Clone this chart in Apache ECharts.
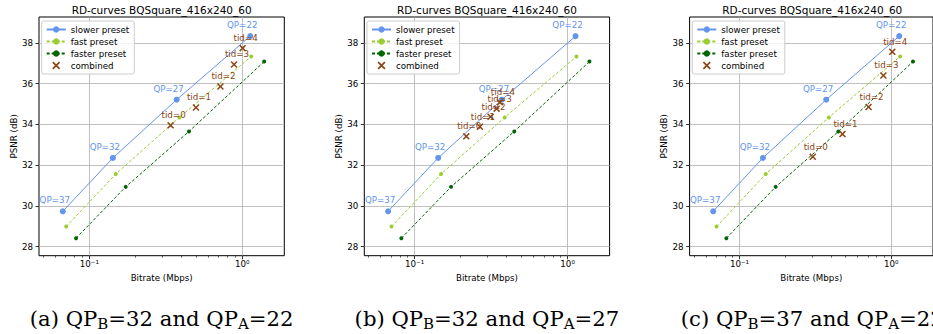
<!DOCTYPE html>
<html>
<head>
<meta charset="utf-8">
<script src="https://cdn.jsdelivr.net/npm/echarts@6/dist/echarts.min.js"></script>
<style>
html,body{margin:0;padding:0;background:#fff;}
#chart{width:933px;height:334px;}
</style>
</head>
<body>
<div id="chart"></div>
<script>
// ---- data ----
const slowerRate = [0.0671, 0.1426, 0.3724, 1.127];
const slowerPsnr = [29.73, 32.35, 35.21, 38.33];
const fastRate = [0.0706, 0.149, 0.388, 1.143];
const fastPsnr = [28.98, 31.56, 34.34, 37.33];
const fasterRate = [0.0819, 0.173, 0.448, 1.39];
const fasterPsnr = [28.41, 30.93, 33.65, 37.08];
const qpLabels = ['QP=37', 'QP=32', 'QP=27', 'QP=22'];
const tidLabels = ['tid=0', 'tid=1', 'tid=2', 'tid=3', 'tid=4'];
const combinedRateA = [0.340, 0.498, 0.720, 0.883, 1.005];
const combinedPsnrA = [33.95, 34.83, 35.86, 36.94, 37.74];
const combinedRateB = [0.2177, 0.2673, 0.3138, 0.3436, 0.361];
const combinedPsnrB = [33.41, 33.88, 34.37, 34.77, 35.08];
const combinedRateC = [0.3039, 0.4766, 0.708, 0.887, 1.015];
const combinedPsnrC = [32.41, 33.52, 34.85, 36.40, 37.56];
const seriesNames = ['slower preset', 'fast preset', 'faster preset', 'combined'];
const panelTitle = 'RD-curves BQSquare_416x240_60';
const captionParts = [
  ['(a)', '32', '22'],
  ['(b)', '32', '27'],
  ['(c)', '37', '22']
];
const yTicks = [28, 30, 32, 34, 36, 38];
const xMajorTicks = [0.1, 1];
const xMinorTicks = [0.05, 0.06, 0.07, 0.08, 0.09, 0.2, 0.3, 0.4, 0.5, 0.6, 0.7, 0.8, 0.9];
const xLabelText = { '0.1': '10\u207B\u00B9', '1': '10\u2070' };
const xAxisName = 'Bitrate (Mbps)';
const yAxisName = 'PSNR (dB)';

// ---- layout / style ----
const FONT = 'DejaVu Sans';
const gridLefts = [39, 364.3, 689.6];
const GW = 245.3, GT = 17, GH = 238.7;
const X_MIN = 0.0469, X_MAX = 1.882;
const Y_MIN = 27.55, Y_MAX = 39.27;
const C_SLOW = '#6495ED', C_FAST = '#9ACD32', C_FASTER = '#006400', C_COMB = '#8B4513';
const XPATH = 'path://M0,1.5L1.5,0L5,3.5L8.5,0L10,1.5L6.5,5L10,8.5L8.5,10L5,6.5L1.5,10L0,8.5L3.5,5Z';

const combined = [
  [combinedRateA, combinedPsnrA],
  [combinedRateB, combinedPsnrB],
  [combinedRateC, combinedPsnrC]
];
function pairs(xs, ys) { return xs.map((x, i) => [x, ys[i]]); }

const grids = [], xAxes = [], yAxes = [], series = [], legends = [], titles = [];
gridLefts.forEach((gl, p) => {
  grids.push({ left: gl, top: GT, width: GW, height: GH, show: true,
    borderColor: '#000', borderWidth: 1, backgroundColor: 'transparent', containLabel: false });
  xAxes.push({
    type: 'log', logBase: 10, gridIndex: p, position: 'bottom', min: X_MIN, max: X_MAX,
    axisLine: { show: false },
    axisTick: { show: true, customValues: xMajorTicks, length: 3.5, lineStyle: { color: '#000', width: 0.8 } },
    axisLabel: { show: true, customValues: xMajorTicks, margin: 4, fontFamily: FONT, fontSize: 8.7, color: '#000',
      formatter: v => xLabelText[String(+v.toPrecision(6))] || '' },
    splitLine: { show: true, lineStyle: { color: '#b0b0b0', width: 0.8 } },
    name: xAxisName, nameLocation: 'middle', nameGap: 17,
    nameTextStyle: { fontFamily: FONT, fontSize: 8.7, color: '#000' }
  });
  xAxes.push({
    type: 'log', logBase: 10, gridIndex: p, position: 'bottom', min: X_MIN, max: X_MAX,
    axisLine: { show: false },
    axisTick: { show: true, customValues: xMinorTicks, length: 2, lineStyle: { color: '#000', width: 0.6 } },
    axisLabel: { show: false },
    splitLine: { show: false }
  });
  yAxes.push({
    type: 'value', gridIndex: p, min: Y_MIN, max: Y_MAX,
    axisLine: { show: false },
    axisTick: { show: true, customValues: yTicks, length: 3.5, lineStyle: { color: '#000', width: 0.8 } },
    axisLabel: { show: true, customValues: yTicks, margin: 6, fontFamily: FONT, fontSize: 8.7, color: '#000' },
    splitLine: { show: true, lineStyle: { color: '#b0b0b0', width: 0.8 } },
    name: yAxisName, nameLocation: 'middle', nameGap: 20,
    nameTextStyle: { fontFamily: FONT, fontSize: 8.7, color: '#000' }
  });
  const xi = p * 2;
  series.push({
    name: seriesNames[0], type: 'line', xAxisIndex: xi, yAxisIndex: p,
    data: pairs(slowerRate, slowerPsnr), symbol: 'circle', symbolSize: 6, showAllSymbol: true,
    lineStyle: { color: C_SLOW, width: 1 }, itemStyle: { color: C_SLOW }, z: 3,
    label: { show: true, position: 'inside', offset: [-8, -11], formatter: q => qpLabels[q.dataIndex],
      fontFamily: FONT, fontSize: 8.7, color: C_SLOW },
    animation: false
  });
  series.push({
    name: seriesNames[1], type: 'line', xAxisIndex: xi, yAxisIndex: p,
    data: pairs(fastRate, fastPsnr), symbol: 'circle', symbolSize: 4, showAllSymbol: true,
    lineStyle: { color: C_FAST, width: 1, type: [3, 2] }, itemStyle: { color: C_FAST }, z: 3,
    animation: false
  });
  series.push({
    name: seriesNames[2], type: 'line', xAxisIndex: xi, yAxisIndex: p,
    data: pairs(fasterRate, fasterPsnr), symbol: 'circle', symbolSize: 4, showAllSymbol: true,
    lineStyle: { color: C_FASTER, width: 1, type: [3, 2] }, itemStyle: { color: C_FASTER }, z: 3,
    animation: false
  });
  series.push({
    name: seriesNames[3], type: 'scatter', xAxisIndex: xi, yAxisIndex: p,
    data: pairs(combined[p][0], combined[p][1]), symbol: XPATH, symbolSize: 7,
    itemStyle: { color: C_COMB, opacity: 1 }, z: 4,
    label: { show: true, position: 'inside', offset: [3, -10], formatter: q => tidLabels[q.dataIndex],
      fontFamily: FONT, fontSize: 8.7, color: C_COMB },
    animation: false
  });
  legends.push({
    left: gl + 2.7, top: 21, orient: 'vertical', data: seriesNames,
    itemWidth: 19, itemHeight: 8, itemGap: 3, padding: [4, 5, 4, 4],
    backgroundColor: 'rgba(255,255,255,0.8)', borderColor: '#cccccc', borderWidth: 1, borderRadius: 2,
    textStyle: { fontFamily: FONT, fontSize: 8.7, color: '#000' },
    selectedMode: false
  });
  const cx = gl + GW / 2;
  titles.push({
    text: panelTitle, left: cx, textAlign: 'center', top: 4, padding: 0,
    textStyle: { fontFamily: FONT, fontSize: 10.5, fontWeight: 'normal', color: '#000' }
  });
  const cp = captionParts[p];
  titles.push({
    text: cp[0] + ' QP{sub|B}=' + cp[1] + ' and QP{sub|A}=' + cp[2],
    left: cx, textAlign: 'center', top: 306, padding: 0,
    textStyle: { fontFamily: 'DejaVu Serif', fontSize: 21.2, fontWeight: 'normal', color: '#000', lineHeight: 25,
      rich: { sub: { fontFamily: 'DejaVu Serif', fontSize: 15, lineHeight: 14, verticalAlign: 'bottom', color: '#000' } } }
  });
});

const chart = echarts.init(document.getElementById('chart'), null, { renderer: 'svg' });
chart.setOption({
  animation: false,
  backgroundColor: '#fff',
  title: titles,
  legend: legends,
  grid: grids,
  xAxis: xAxes,
  yAxis: yAxes,
  series: series
});
</script>
</body>
</html>
